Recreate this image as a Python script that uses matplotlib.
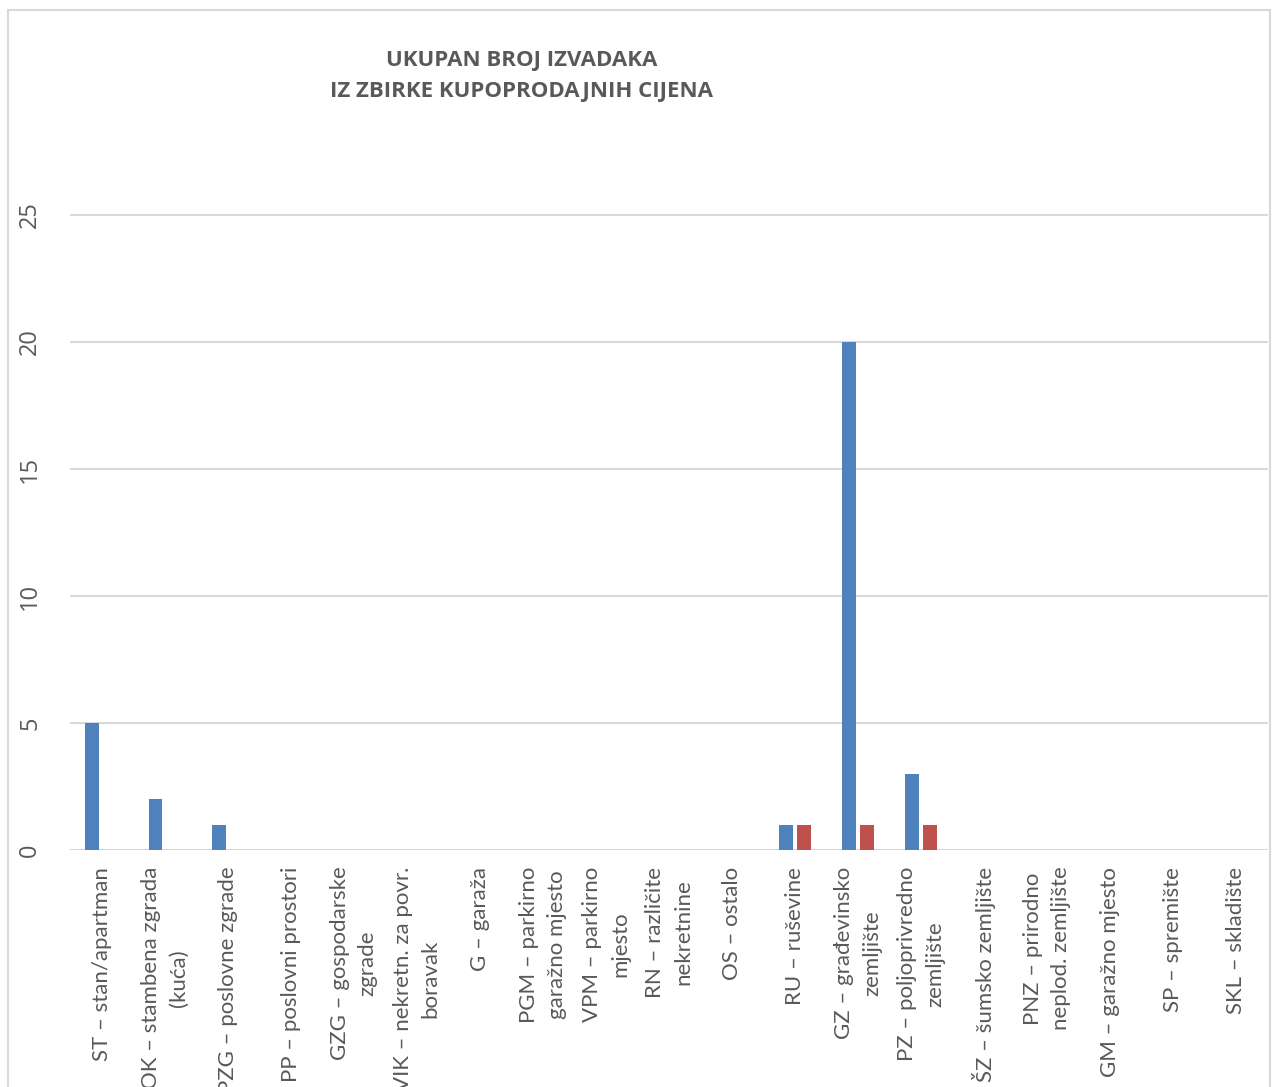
import numpy as np
import matplotlib
matplotlib.use("Agg")
import matplotlib.pyplot as plt
from matplotlib.patches import Rectangle

# Data
# ===================================
categories = [
    "ST – stan/apartman",
    "OK – stambena zgrada\n(kuća)",
    "PZG – poslovne zgrade",
    "PP – poslovni prostori",
    "GZG – gospodarske\nzgrade",
    "VIK – nekretn. za povr.\nboravak",
    "G – garaža",
    "PGM – parkirno\ngaražno mjesto",
    "VPM – parkirno\nmjesto",
    "RN – različite\nnekretnine",
    "OS – ostalo",
    "RU – ruševine",
    "GZ – građevinsko\nzemljište",
    "PZ – poljoprivredno\nzemljište",
    "ŠZ – šumsko zemljište",
    "PNZ – prirodno\nneplod. zemljište",
    "GM – garažno mjesto",
    "SP – spremište",
    "SKL – skladište",
]
series_blue = [5, 2, 1, 0, 0, 0, 0, 0, 0, 0, 0, 1, 20, 3, 0, 0, 0, 0, 0]
series_red = [0, 0, 0, 0, 0, 0, 0, 0, 0, 0, 0, 1, 1, 1, 0, 0, 0, 0, 0]
y_ticks = [0, 5, 10, 15, 20, 25]
title = "UKUPAN BROJ IZVADAKA\nIZ ZBIRKE KUPOPRODAJNIH CIJENA"

# Style
# ===================================
plt.rcParams["font.family"] = ["Open Sans", "DejaVu Sans"]
TEXT = "#595959"
GRID = "#D9D9D9"
BLUE = "#4F81BD"
RED = "#C0504D"

W, H = 1273, 1087
fig = plt.figure(figsize=(W / 100, H / 100), dpi=100)

# chart border
fig.patches.append(Rectangle((8 / W, -0.05), 1262 / W, 1 - 10 / H + 0.05,
                             transform=fig.transFigure, fill=False,
                             edgecolor=GRID, linewidth=1.5))

y_top = 27
ax = fig.add_axes([70 / W, 1 - 850 / H, 1198 / W, (25.4 * y_top) / H])

x = np.arange(len(categories))
bw = 0.222
off = 0.144
ax.bar(x - off, series_blue, width=bw, color=BLUE, zorder=3)
ax.bar(x + off, series_red, width=bw, color=RED, zorder=3)

ax.set_xlim(-0.5, len(categories) - 0.5)
ax.set_ylim(0, y_top)
ax.set_yticks(y_ticks)
ax.set_yticklabels([str(v) for v in y_ticks], rotation=90, va="center",
                   color=TEXT, fontsize=17)
ax.yaxis.grid(True, color=GRID, linewidth=1.5, zorder=0)
ax.tick_params(axis="y", length=0, pad=20)

ax.set_xticks(x)
ax.set_xticklabels(categories, rotation=90, ha="center", va="top",
                   multialignment="center", color=TEXT, fontsize=16,
                   linespacing=1.5, family=["Lato", "DejaVu Sans"])
ax.tick_params(axis="x", length=0, pad=12)

for s in ax.spines.values():
    s.set_visible(False)

fig.text(522 / W, 1 - 76 / H, title, ha="center", va="center",
         fontsize=16, fontweight="bold", color=TEXT, linespacing=1.65)

fig.savefig("out.png", dpi=100)
